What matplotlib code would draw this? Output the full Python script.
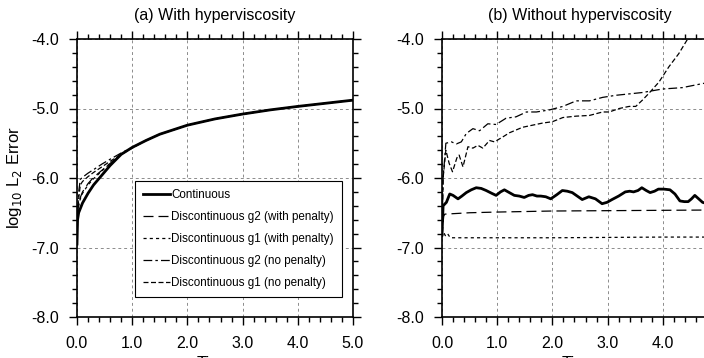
import numpy as np
import matplotlib
matplotlib.use("Agg")
import matplotlib.pyplot as plt
from matplotlib.ticker import MultipleLocator, FormatStrFormatter

plt.rcParams['font.family'] = ['Liberation Sans', 'DejaVu Sans']

labels = ["Continuous",
          "Discontinuous g2 (with penalty)",
          "Discontinuous g1 (with penalty)",
          "Discontinuous g2 (no penalty)",
          "Discontinuous g1 (no penalty)"]

# ---- panel (a): with hyperviscosity ----
xa = [0.0, 0.01, 0.03, 0.06, 0.1, 0.2, 0.3, 0.45, 0.6, 0.8, 1.0,
      1.25, 1.5, 2.0, 2.5, 3.0, 3.5, 4.0, 4.5, 5.0]
late_a = [-5.46, -5.37, -5.24, -5.15, -5.08, -5.02, -4.97, -4.925, -4.88]
cont_a = [-6.95, -6.60, -6.50, -6.44, -6.36, -6.22, -6.10, -5.96, -5.82, -5.66, -5.56] + late_a
g2p_a = [-6.95, -6.52, -6.38, -6.28, -6.20, -6.08, -5.99, -5.89, -5.79, -5.66, -5.56] + late_a
g1p_a = [-6.95, -6.58, -6.40, -6.30, -6.22, -6.10, -6.01, -5.90, -5.79, -5.66, -5.56] + late_a
g2n_a = [-6.95, -6.50, -6.20, -6.02, -5.99, -5.93, -5.88, -5.80, -5.73, -5.64, -5.56] + late_a
g1n_a = [-6.95, -6.60, -6.30, -6.10, -6.05, -5.98, -5.92, -5.84, -5.76, -5.66, -5.57] + late_a

# ---- panel (b): without hyperviscosity ----
xb_c = [0.0, 0.02, 0.08, 0.14, 0.2, 0.29, 0.36, 0.44, 0.53, 0.62, 0.71, 0.8,
        0.9, 0.98, 1.06, 1.13, 1.22, 1.31, 1.4, 1.49, 1.57, 1.64, 1.72, 1.79,
        1.88, 1.97, 2.08, 2.18, 2.27, 2.36, 2.45, 2.54, 2.66, 2.78, 2.9, 2.99,
        3.08, 3.2, 3.32, 3.4, 3.47, 3.55, 3.62, 3.7, 3.77, 3.85, 3.92, 4.02,
        4.13, 4.22, 4.31, 4.39, 4.46, 4.52, 4.58, 4.65, 4.72, 4.85, 5.0]
cont_b = [-6.82, -6.40, -6.35, -6.23, -6.25, -6.30, -6.26, -6.21, -6.17, -6.14,
          -6.15, -6.18, -6.22, -6.25, -6.20, -6.17, -6.21, -6.25, -6.26, -6.28,
          -6.25, -6.24, -6.26, -6.26, -6.27, -6.30, -6.24, -6.18, -6.19, -6.21,
          -6.26, -6.31, -6.27, -6.30, -6.37, -6.35, -6.31, -6.26, -6.20, -6.19,
          -6.20, -6.18, -6.14, -6.18, -6.21, -6.19, -6.16, -6.16, -6.17, -6.23,
          -6.33, -6.34, -6.34, -6.30, -6.25, -6.30, -6.35, -6.38, -6.35]

xb_g2p = [0.0, 0.03, 0.05, 0.5, 1.0, 2.0, 3.0, 4.0, 5.0]
g2p_b = [-6.85, -6.55, -6.52, -6.50, -6.49, -6.475, -6.47, -6.465, -6.46]

xb_g1p = [0.0, 0.03, 0.06, 0.1, 0.15, 1.0, 2.0, 3.0, 4.0, 5.0]
g1p_b = [-6.85, -6.78, -6.83, -6.80, -6.86, -6.86, -6.86, -6.855, -6.85, -6.85]

xb_g2n = [0.0, 0.02, 0.07, 0.17, 0.26, 0.35, 0.44, 0.56, 0.68, 0.83, 0.98,
          1.16, 1.34, 1.53, 1.71, 1.95, 2.19, 2.43, 2.67, 2.91, 3.15, 3.39,
          3.63, 3.99, 4.35, 4.73, 5.0]
g2n_b = [-6.85, -6.0, -5.50, -5.48, -5.51, -5.48, -5.36, -5.29, -5.32, -5.22,
         -5.23, -5.14, -5.12, -5.05, -5.05, -5.02, -4.97, -4.89, -4.89, -4.84,
         -4.81, -4.79, -4.77, -4.72, -4.70, -4.64, -4.61]

xb_g1n = [0.0, 0.02, 0.07, 0.13, 0.19, 0.27, 0.31, 0.38, 0.47, 0.56, 0.65,
          0.74, 0.86, 0.95, 1.1, 1.22, 1.34, 1.46, 1.64, 1.82, 2.0, 2.19, 2.43,
          2.67, 2.91, 3.03, 3.21, 3.39, 3.51, 3.63, 3.75, 3.93, 4.11, 4.29,
          4.45, 4.6]
g1n_b = [-6.85, -6.0, -5.60, -5.79, -5.91, -5.71, -5.67, -5.84, -5.55, -5.57,
         -5.53, -5.57, -5.46, -5.48, -5.41, -5.35, -5.31, -5.27, -5.24, -5.21,
         -5.19, -5.13, -5.11, -5.10, -5.05, -5.05, -5.00, -4.97, -4.97, -4.88,
         -4.78, -4.62, -4.40, -4.21, -4.0, -3.8]

styles = [dict(ls='-', lw=2.0),
          dict(ls=(0, (8, 4)), lw=0.9),
          dict(ls=(0, (2.5, 2.5)), lw=0.9),
          dict(ls=(0, (7, 2.5, 2, 2.5)), lw=0.9),
          dict(ls=(0, (4, 2)), lw=0.9)]

fig = plt.figure(figsize=(7.04, 3.58), dpi=100)
W, H = 704.0, 358.0
ax_a = fig.add_axes([77 / W, 41 / H, 276 / W, 278 / H])
ax_b = fig.add_axes([442 / W, 41 / H, 276 / W, 278 / H])

series_a = [(xa, cont_a), (xa, g2p_a), (xa, g1p_a), (xa, g2n_a), (xa, g1n_a)]
series_b = [(xb_c, cont_b), (xb_g2p, g2p_b), (xb_g1p, g1p_b),
            (xb_g2n, g2n_b), (xb_g1n, g1n_b)]

for ax, series, title in [(ax_a, series_a, "(a) With hyperviscosity"),
                          (ax_b, series_b, "(b) Without hyperviscosity")]:
    for (x, y), st, lab in zip(series, styles, labels):
        ax.plot(x, y, color='black', label=lab, **st)
    ax.set_xlim(0, 5)
    ax.set_ylim(-8, -4)
    ax.xaxis.set_major_locator(MultipleLocator(1.0))
    ax.xaxis.set_minor_locator(MultipleLocator(0.2))
    ax.yaxis.set_major_locator(MultipleLocator(1.0))
    ax.yaxis.set_minor_locator(MultipleLocator(0.2))
    ax.xaxis.set_major_formatter(FormatStrFormatter('%.1f'))
    ax.yaxis.set_major_formatter(FormatStrFormatter('%.1f'))
    ax.tick_params(which='both', direction='out', top=True, right=True,
                   labelsize=11.5, width=1.0, color='black')
    ax.tick_params(which='major', length=6, pad=7)
    ax.tick_params(which='minor', length=3.5)
    ax.tick_params(axis='x', which='major', pad=8)
    for sp in ax.spines.values():
        sp.set_linewidth(1.2)
    ax.set_axisbelow(True)
    ax.grid(True, which='major', linestyle=(0, (3, 3)), color='0.55', lw=0.7)
    ax.set_title(title, fontsize=11.5, pad=14)

fig.text(15 / W, 180 / H, r"log$_{10}$ L$_2$ Error", rotation=90,
         ha='center', va='center', fontsize=12)
fig.text(215 / W, 2 / H, "Time", ha='center', va='top', fontsize=12)
fig.text(580 / W, 2 / H, "Time", ha='center', va='top', fontsize=12)

leg = ax_a.legend(loc='lower right', bbox_to_anchor=(0.96, 0.072),
                  borderaxespad=0, fontsize=8.4, handlelength=2.3,
                  handletextpad=0.15, labelspacing=0.85, fancybox=False,
                  framealpha=1, edgecolor='black', borderpad=0.7)
leg.get_frame().set_linewidth(0.8)

fig.savefig('out.png', dpi=100)
